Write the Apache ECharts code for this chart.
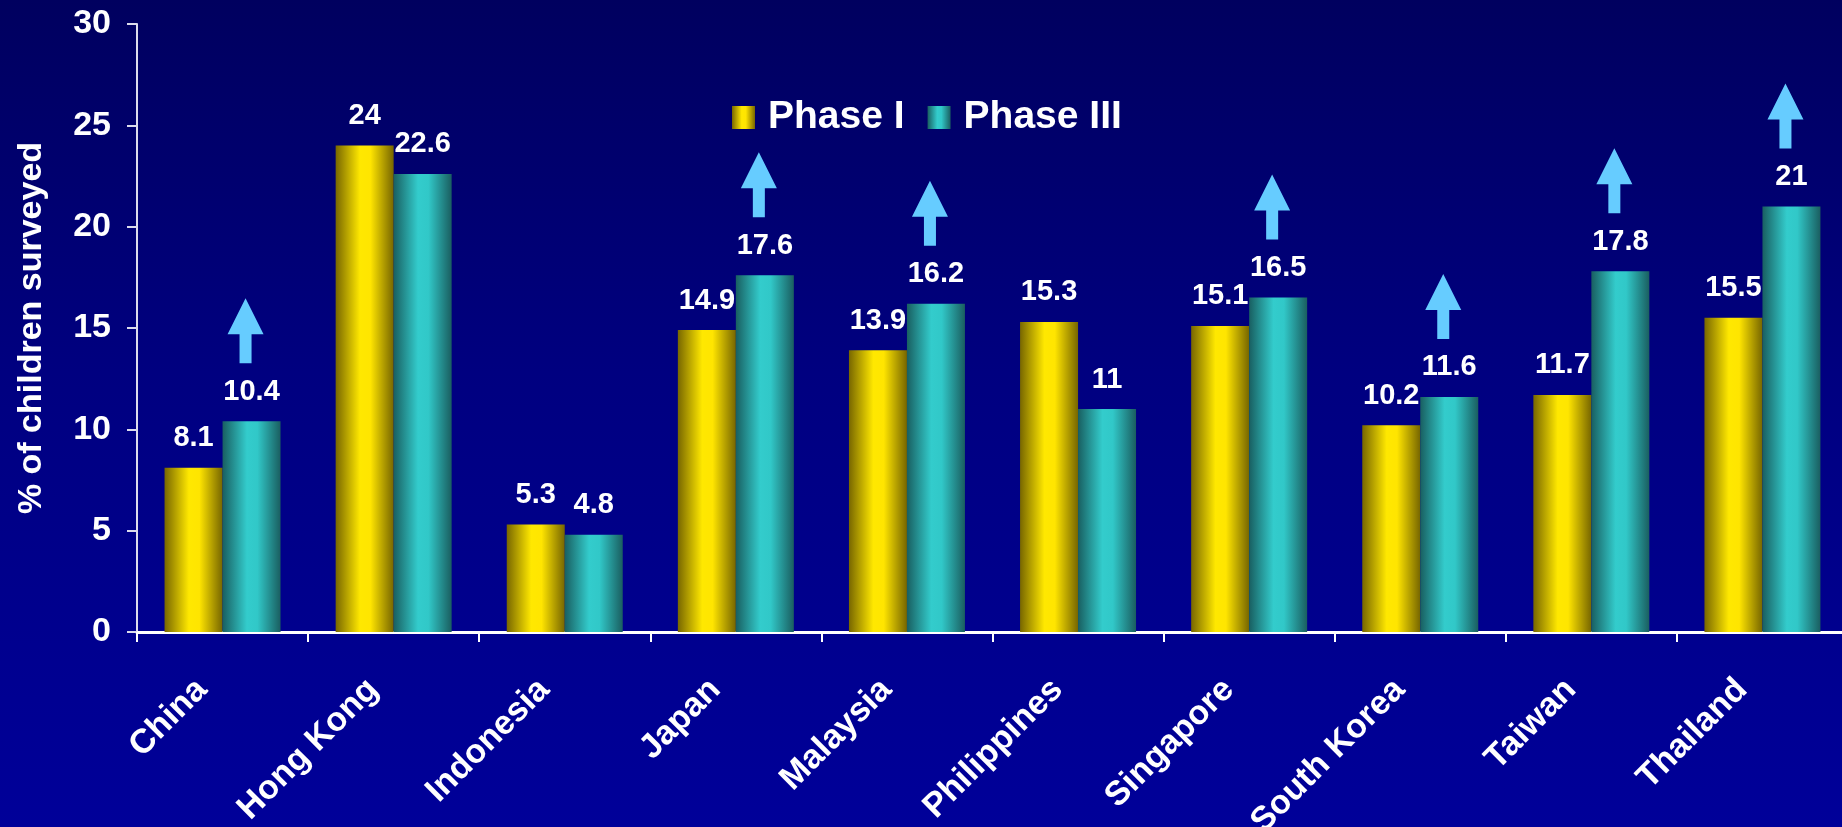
<!DOCTYPE html>
<html>
<head>
<meta charset="utf-8">
<script src="https://cdn.jsdelivr.net/npm/echarts@6/dist/echarts.min.js"></script>
<style>
    html, body { margin: 0; padding: 0; }
    body { background: linear-gradient(to bottom, #00005f 0%, #000080 45%, #000099 100%); }
    #chart { width: 1842px; height: 827px; }
</style>
</head>
<body>
<div id="chart"></div>
<script>
    // data
    var countries = ['China', 'Hong Kong', 'Indonesia', 'Japan', 'Malaysia', 'Philippines', 'Singapore', 'South Korea', 'Taiwan', 'Thailand'];
    var phase1 = [8.1, 24, 5.3, 14.9, 13.9, 15.3, 15.1, 10.2, 11.7, 15.5];
    var phase3 = [10.4, 22.6, 4.8, 17.6, 16.2, 11, 16.5, 11.6, 17.8, 21];
    // which countries get the blue "up" arrow over Phase III
    var arrowFlags = [true, false, false, true, true, false, true, true, true, true];
    var yTicks = { min: 0, max: 30, step: 5 };

    var font = '"Liberation Sans", Arial, sans-serif';

    var yellowGrad = new echarts.graphic.LinearGradient(0, 0, 1, 0, [
        { offset: 0, color: '#786700' },
        { offset: 0.42, color: '#ffe800' },
        { offset: 0.6, color: '#ffe500' },
        { offset: 1, color: '#776600' }
    ]);
    var tealGrad = new echarts.graphic.LinearGradient(0, 0, 1, 0, [
        { offset: 0, color: '#195f61' },
        { offset: 0.42, color: '#33cccc' },
        { offset: 0.6, color: '#31c8c8' },
        { offset: 1, color: '#1a5e60' }
    ]);

    var arrowData = [];
    for (var i = 0; i < countries.length; i++) {
        if (arrowFlags[i]) arrowData.push([i, phase3[i]]);
    }

    var valueLabel = {
        show: true,
        position: 'top',
        distance: 15,
        color: '#ffffff',
        fontFamily: font,
        fontWeight: 'bold',
        fontSize: 29
    };

    var chart = echarts.init(document.getElementById('chart'));
    chart.setOption({
        backgroundColor: 'transparent',
        animation: false,
        legend: {
            data: ['Phase I', 'Phase III'],
            icon: 'rect',
            left: 727,
            top: 93,
            itemWidth: 23,
            itemHeight: 23,
            itemGap: 23,
            textStyle: { color: '#ffffff', fontFamily: font, fontWeight: 'bold', fontSize: 39, padding: [0, 0, 0, 8] }
        },
        // labels are allowed to run off the bottom edge, as in the original slide
        grid: { left: 137, right: -6, top: 24, bottom: 195, containLabel: false, outerBoundsMode: 'none' },
        xAxis: {
            type: 'category',
            data: countries,
            axisLine: { lineStyle: { color: '#ffffff', width: 3 } },
            axisTick: { show: true, interval: 0, length: 10, lineStyle: { color: '#ffffff', width: 2 } },
            axisLabel: {
                interval: 0,
                rotate: 45,
                margin: 32,
                color: '#ffffff',
                fontFamily: font,
                fontWeight: 'bold',
                fontSize: 34,
                padding: [0, 29, 0, 0]
            }
        },
        yAxis: {
            type: 'value',
            min: yTicks.min,
            max: yTicks.max,
            interval: yTicks.step,
            name: '% of children surveyed',
            nameLocation: 'middle',
            nameGap: 88,
            nameTextStyle: { color: '#ffffff', fontFamily: font, fontWeight: 'bold', fontSize: 34 },
            axisLine: { show: true, lineStyle: { color: '#dcdcec', width: 2 } },
            axisTick: { show: true, length: 10, lineStyle: { color: '#dcdcec', width: 2 } },
            splitLine: { show: false },
            axisLabel: { margin: 26, color: '#ffffff', fontFamily: font, fontWeight: 'bold', fontSize: 34 }
        },
        series: [
            {
                name: 'Phase I',
                type: 'bar',
                data: phase1,
                barWidth: 58,
                barGap: '0%',
                itemStyle: { color: yellowGrad },
                label: valueLabel
            },
            {
                name: 'Phase III',
                type: 'bar',
                data: phase3,
                barWidth: 58,
                barGap: '0%',
                itemStyle: { color: tealGrad },
                label: valueLabel
            },
            {
                name: 'arrows',
                type: 'custom',
                silent: true,
                z: 5,
                data: arrowData,
                renderItem: function(params, api) {
                    var p = api.coord([api.value(0), api.value(1)]);
                    var cx = p[0] + 23;
                    var bottom = p[1] - 58;
                    var shaftH = 29, headH = 36, headW = 36, shaftW = 12;
                    return {
                        type: 'polygon',
                        shape: {
                            points: [
                                [cx - shaftW / 2, bottom],
                                [cx - shaftW / 2, bottom - shaftH],
                                [cx - headW / 2, bottom - shaftH],
                                [cx, bottom - shaftH - headH],
                                [cx + headW / 2, bottom - shaftH],
                                [cx + shaftW / 2, bottom - shaftH],
                                [cx + shaftW / 2, bottom]
                            ]
                        },
                        style: { fill: '#66ccff' }
                    };
                }
            }
        ]
    });
</script>
</body>
</html>
